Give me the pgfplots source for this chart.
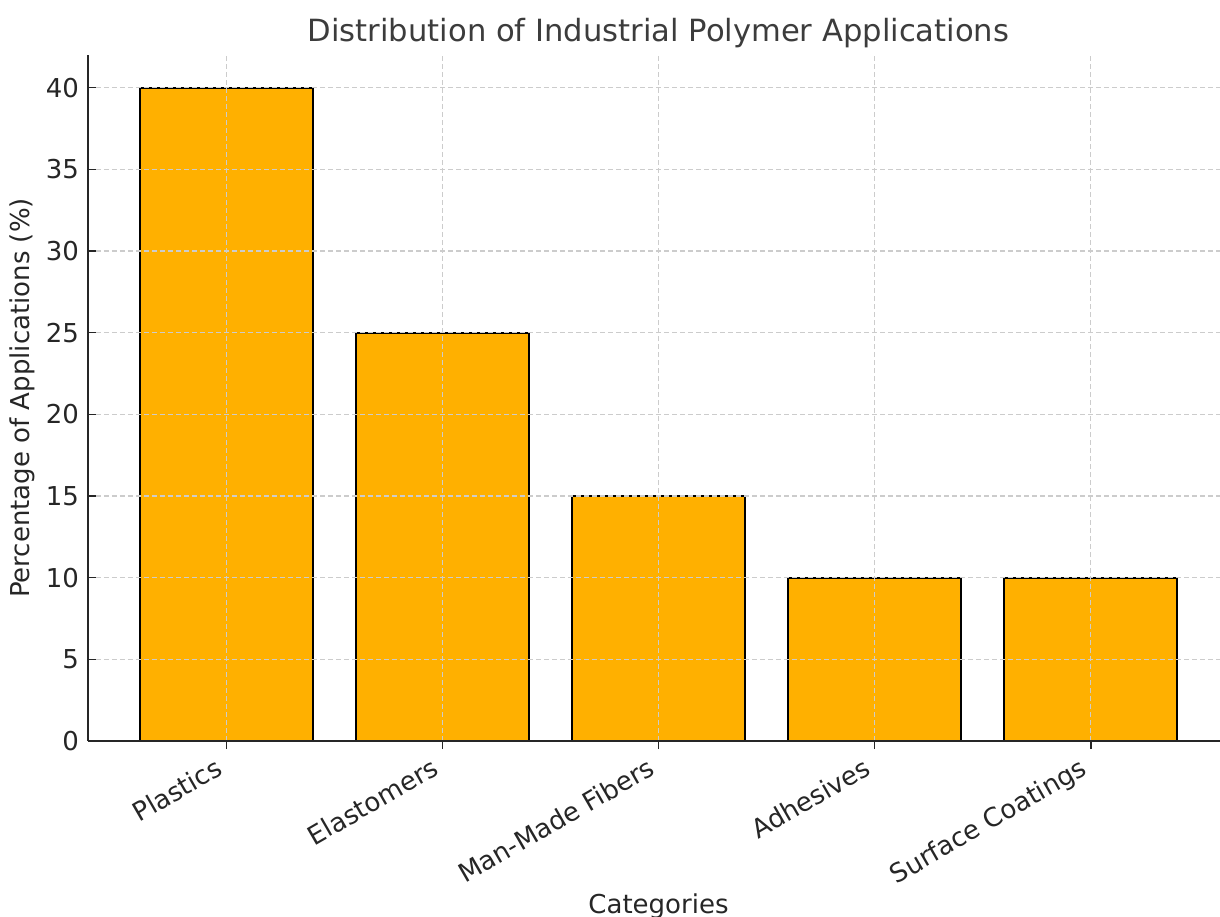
\documentclass[border=0pt]{standalone}
\usepackage{pgfplots}
\pgfplotsset{compat=1.18}
\usepackage{fontspec}
\setmainfont{DejaVu Sans}
\definecolor{barfill}{HTML}{FFB000}
\definecolor{txt}{HTML}{262626}
\definecolor{spine}{HTML}{262626}
\definecolor{gridc}{HTML}{CCCCCC}
\begin{document}
\begin{tikzpicture}
\begin{axis}[
  scale only axis,
  width=570.5pt, height=343pt,
  at={(0,0)}, anchor=south west,
  xmin=-0.64, xmax=4.64,
  ymin=0, ymax=42,
  axis on top,
  axis x line*=bottom, axis y line*=left,
  axis line style={-, spine, line width=0.9pt},
  tick align=inside,
  major tick length=4pt,
  tick style={spine, line width=0.8pt},
  xtick=data,
  xticklabels={Plastics, Elastomers, Man-Made Fibers, Adhesives, Surface Coatings},
  ytick={0,5,10,15,20,25,30,35,40},
  /pgf/number format/assume math mode=true,
  ticklabel style={font=\fontsize{13}{15}\selectfont, text=txt},
  yticklabel style={xshift=-1pt},
  xticklabel style={xshift=-6pt, yshift=-3.5pt, rotate=30, anchor=north east, inner sep=0pt},
  xmajorgrids, ymajorgrids,
  major grid style={gridc, line width=0.6pt, dash pattern=on 2.6pt off 1.4pt},
  title={Distribution of Industrial Polymer Applications},
  title style={at={(axis description cs:0.5,1)}, anchor=base, yshift=0.5pt, font=\fontsize{15.3}{18}\selectfont, text=txt!90},
  xlabel={Categories},
  xlabel style={at={(axis description cs:0.5,0)}, anchor=base, yshift=-86pt, font=\fontsize{13}{15}\selectfont, text=txt},
  ylabel={Percentage of Applications (\%)},
  ylabel style={at={([xshift=-29pt]axis description cs:0,0.5)}, anchor=base, font=\fontsize{13}{15}\selectfont, text=txt},
  ybar, bar width=0.8,
]
\addplot[fill=barfill, draw=black, line width=0.9pt] coordinates {(0,40) (1,25) (2,15) (3,10) (4,10)};
\end{axis}
\pgfresetboundingbox
\path[use as bounding box] (-44pt,-87.5pt) rectangle (566pt,370.5pt);
\end{tikzpicture}
\end{document}
